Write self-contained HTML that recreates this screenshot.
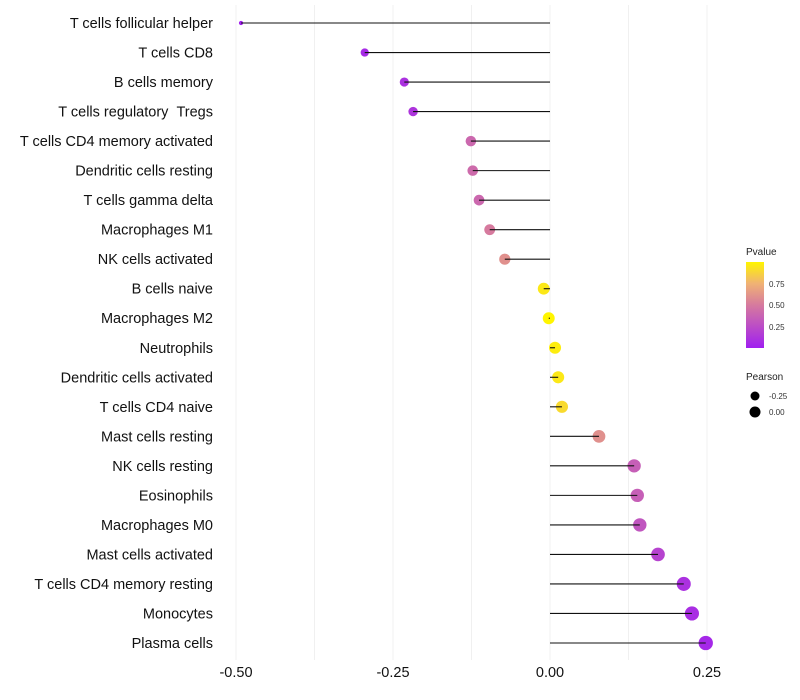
<!DOCTYPE html>
<html><head><meta charset="utf-8"><style>
html,body{margin:0;padding:0;background:#fff;}
svg{display:block;font-family:"Liberation Sans",Arial,sans-serif;}
</style></head><body>
<svg id="chart" width="800" height="700" viewBox="0 0 800 700" xmlns="http://www.w3.org/2000/svg">
<g id="grid"></g>
<g id="ylabels"></g>
<g id="xlabels"></g>
<g id="marks"></g>
<g id="legend">
<defs><linearGradient id="pg" x1="0" y1="1" x2="0" y2="0">
<stop offset="0" stop-color="#a01ff0"/><stop offset="0.5" stop-color="#d67a9e"/><stop offset="0.75" stop-color="#f0b274"/><stop offset="1" stop-color="#fff500"/></linearGradient></defs>
<text x="746" y="255" font-size="10" fill="#222">Pvalue</text>
<rect x="746" y="262" width="18" height="86" fill="url(#pg)"/>
<text x="769" y="287" font-size="8" fill="#333">0.75</text>
<text x="769" y="308" font-size="8" fill="#333">0.50</text>
<text x="769" y="330" font-size="8" fill="#333">0.25</text>
<text x="746" y="380" font-size="10" fill="#222">Pearson</text>
<circle cx="755" cy="396" r="4.5" fill="#000"/>
<text x="769" y="399" font-size="8" fill="#333">-0.25</text>
<circle cx="755" cy="412" r="5.5" fill="#000"/>
<text x="769" y="415" font-size="8" fill="#333">0.00</text>
</g>
</svg>
<script>
const categories=["T cells follicular helper","T cells CD8","B cells memory","T cells regulatory \u00a0Tregs","T cells CD4 memory activated","Dendritic cells resting","T cells gamma delta","Macrophages M1","NK cells activated","B cells naive","Macrophages M2","Neutrophils","Dendritic cells activated","T cells CD4 naive","Mast cells resting","NK cells resting","Eosinophils","Macrophages M0","Mast cells activated","T cells CD4 memory resting","Monocytes","Plasma cells"];
const pearson=[-0.492,-0.295,-0.232,-0.218,-0.126,-0.123,-0.113,-0.096,-0.072,-0.010,-0.002,0.008,0.013,0.019,0.078,0.134,0.139,0.143,0.172,0.213,0.226,0.248];
const pvalue=[0.01,0.06,0.1,0.12,0.4,0.42,0.4,0.5,0.6,0.95,1.0,0.97,0.95,0.9,0.6,0.35,0.35,0.3,0.2,0.1,0.08,0.05];
const xTicks=[-0.5,-0.25,0,0.25];
const xTickLabels=["-0.50","-0.25","0.00","0.25"];
const NS="http://www.w3.org/2000/svg";
function xs(v){return 550+v*628;}
function ys(i){return 23+i*(620/21);}
function mk(t,a,p){const e=document.createElementNS(NS,t);for(const k in a)e.setAttribute(k,a[k]);p.appendChild(e);return e;}
function lerp(a,b,t){return Math.round(a+(b-a)*t);}
const stops=[[0,[160,31,240]],[0.5,[214,122,158]],[0.75,[240,178,116]],[1,[255,245,0]]];
function col(p){for(let i=1;i<stops.length;i++){if(p<=stops[i][0]){const a=stops[i-1],b=stops[i];const t=(p-a[0])/(b[0]-a[0]);return `rgb(${lerp(a[1][0],b[1][0],t)},${lerp(a[1][1],b[1][1],t)},${lerp(a[1][2],b[1][2],t)})`;}}return "rgb(255,245,0)";}
const grid=document.getElementById('grid');
[-0.5,-0.375,-0.25,-0.125,0,0.125,0.25].forEach(v=>{
 const l=mk('line',{x1:xs(v),x2:xs(v),y1:5,y2:660,stroke:'#f0f0f0','stroke-width':1},grid);
 
 
});
const xl=document.getElementById('xlabels');
xTicks.forEach((v,i)=>{
 const t=mk('text',{x:xs(v),y:677,'text-anchor':'middle','font-size':14.5,fill:'#111'},xl);
 t.textContent=xTickLabels[i];
 
 
});
const yl=document.getElementById('ylabels'),mg=document.getElementById('marks');
const mn=Math.min(...pearson),mx=Math.max(...pearson);
categories.forEach((c,i)=>{
 const t=mk('text',{x:213,y:ys(i)+5,'text-anchor':'end','font-size':14.5,fill:'#111'},yl);
 t.textContent=c;
 
 
 const v=pearson[i];
 const r=Math.sqrt(4.5+(v-mn)/(mx-mn)*47);
 const pt=mk('circle',{cx:xs(v),cy:ys(i),r:r,fill:col(pvalue[i])},mg);
 
 
 const ln=mk('line',{x1:xs(v),x2:xs(0),y1:ys(i),y2:ys(i),stroke:'#111','stroke-width':1.1},mg);
 
 
});
</script>
</body></html>
